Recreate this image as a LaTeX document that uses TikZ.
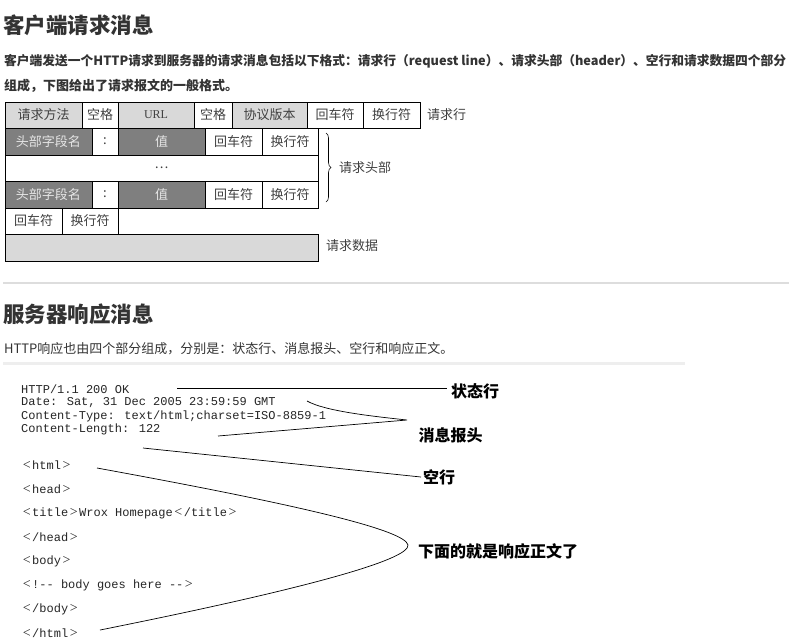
\documentclass[tikz,border=0pt]{standalone}
\usepackage{fontspec}
\usepackage{graphicx}
\usetikzlibrary{decorations.pathreplacing}
\newfontfamily\cjk{Noto Sans CJK SC}
\newfontfamily\mono{Liberation Mono}
\newfontfamily\serifL{Liberation Serif}
\newcommand{\ltb}{\makebox[11pt]{\serifL\fontsize{14}{14}\selectfont<}}
\newcommand{\gtb}{\makebox[11pt]{\serifL\fontsize{14}{14}\selectfont>}}
\definecolor{lightg}{HTML}{D9D9D9}
\definecolor{darkg}{HTML}{7F7F7F}
\definecolor{txt}{HTML}{333333}
\definecolor{celltxt}{HTML}{404040}
\definecolor{rulec}{HTML}{DDDDDD}
\definecolor{barc}{HTML}{EEEEEE}
\tikzset{
  cell/.style={draw=black, line width=0.8pt, inner sep=0pt, outer sep=0pt, anchor=north west,
    font=\cjk\fontsize{13}{13}\selectfont, text=celltxt, fill=white},
  lightcell/.style={cell, fill=lightg},
  darkcell/.style={cell, fill=darkg, text=white!90!black},
  side/.style={anchor=west, inner sep=0pt, font=\cjk\fontsize{13}{13}\selectfont, text=celltxt},
  heading/.style={anchor=west, inner sep=0pt, font=\cjk\bfseries\fontsize{21.5}{22}\selectfont, text=txt},
  para/.style={anchor=west, inner sep=0pt, font=\cjk\bfseries\fontsize{13}{13}\selectfont, text=txt},
  parar/.style={anchor=west, inner sep=0pt, font=\cjk\fontsize{13}{13}\selectfont, text=txt},
  code/.style={anchor=west, inner sep=0pt, font=\mono\fontsize{12}{12}\selectfont, text=black!85},
  callout/.style={inner sep=0pt, font=\cjk\bfseries\fontsize{16}{16}\selectfont, text=black},
  conn/.style={draw=black, line width=0.7pt}
}
\begin{document}
\begin{tikzpicture}[x=1pt,y=-1pt]
\useasboundingbox (0,0) rectangle (789,641);
\fill[white] (0,0) rectangle (789,641);

% ---------- request section ----------
\node[heading] (h1) at (3,25) {客户端请求消息};
\node[para] (p1) at (4,61) {\resizebox{782pt}{!}{客户端发送一个HTTP请求到服务器的请求消息包括以下格式：请求行（request line）、请求头部（header）、空行和请求数据四个部分}};
\node[para] (p2) at (4,86) {组成，下图给出了请求报文的一般格式。};

% row 1
\node[lightcell, minimum width=77pt, minimum height=26pt] (m1) at (5,102) {请求方法};
\node[cell, minimum width=36pt, minimum height=26pt] (sp1) at (82,102) {空格};
\node[lightcell, minimum width=76pt, minimum height=26pt, font=\serifL\fontsize{12}{12}\selectfont] (url) at (118,102) {URL};
\node[cell, minimum width=38pt, minimum height=26pt] (sp2) at (194,102) {空格};
\node[lightcell, minimum width=75pt, minimum height=26pt] (ver) at (232,102) {协议版本};
\node[cell, minimum width=56pt, minimum height=26pt] (cr1) at (307,102) {回车符};
\node[cell, minimum width=57pt, minimum height=26pt] (lf1) at (363,102) {换行符};
\node[side] (lblrl) at (427,115) {请求行};

% row 2
\node[darkcell, minimum width=87pt, minimum height=27pt] (hn1) at (5,128) {头部字段名};
\node[cell, minimum width=26pt, minimum height=27pt] (co1) at (92,128) {:};
\node[darkcell, minimum width=87pt, minimum height=27pt] (v1) at (118,128) {值};
\node[cell, minimum width=57pt, minimum height=27pt] (cr2) at (205,128) {回车符};
\node[cell, minimum width=56pt, minimum height=27pt] (lf2) at (262,128) {换行符};

% row 3
\node[cell, minimum width=313pt, minimum height=26pt] (dots) at (5,155) {…};

% row 4
\node[darkcell, minimum width=87pt, minimum height=27pt] (hn2) at (5,181) {头部字段名};
\node[cell, minimum width=26pt, minimum height=27pt] (co2) at (92,181) {:};
\node[darkcell, minimum width=87pt, minimum height=27pt] (v2) at (118,181) {值};
\node[cell, minimum width=57pt, minimum height=27pt] (cr3) at (205,181) {回车符};
\node[cell, minimum width=56pt, minimum height=27pt] (lf3) at (262,181) {换行符};

% row 5
\node[cell, minimum width=57pt, minimum height=26pt] (cr4) at (5,208) {回车符};
\node[cell, minimum width=56pt, minimum height=26pt] (lf4) at (62,208) {换行符};

% row 6
\node[lightcell, minimum width=313pt, minimum height=27pt] (data) at (5,234) {};
\node[side] (lbldata) at (326,246) {请求数据};

% brace
\coordinate (bt) at (326,133);
\coordinate (bb) at (326,202);
\draw[black, line width=0.6pt, decorate, decoration={brace, amplitude=5pt}] (bt) -- (bb);
\node[side] (lblhd) at (339,168) {请求头部};

% separator
\draw[rulec, line width=1.2pt] (3,283) -- (789,283);

% ---------- response section ----------
\node[heading] (h2) at (3,314) {服务器响应消息};
\node[parar] (p3) at (4,349) {HTTP响应也由四个部分组成，分别是：状态行、消息报头、空行和响应正文。};
\fill[barc] (3,362) rectangle (685,365);

\node[code] (c1) at (21,389) {HTTP/1.1 200 OK};
\node[code] (c2) at (21,402.5) {Date: Sat, 31 Dec 2005 23:59:59 GMT};
\node[code] (c3) at (21,416) {Content-Type: text/html;charset=ISO-8859-1};
\node[code] (c4) at (21,429.5) {Content-Length: 122};

\node[code] (t1) at (21,465) {\ltb html\gtb};
\node[code] (t2) at (21,489) {\ltb head\gtb};
\node[code] (t3) at (21,513) {\ltb title\gtb Wrox Homepage\ltb/title\gtb};
\node[code] (t4) at (21,537) {\ltb/head\gtb};
\node[code] (t5) at (21,561) {\ltb body\gtb};
\node[code] (t6) at (21,585) {\ltb!-- body goes here --\gtb};
\node[code] (t7) at (21,609) {\ltb/body\gtb};
\node[code] (t8) at (21,633) {\ltb/html\gtb};

\node[callout] (lst) at (475,391) {状态行};
\node[callout] (lhd) at (450.5,435) {消息报头};
\node[callout] (lkh) at (439,477) {空行};
\node[callout] (lbody) at (498,551) {下面的就是响应正文了};

% connectors
\coordinate (s0) at (177,388);
\coordinate (s1) at (447,388);
\draw[conn] (s0) -- (s1);

\coordinate (hb0) at (307,401);
\coordinate (hbt) at (407,420);
\coordinate (hb1) at (218,436);
\draw[conn] (hb0) .. controls (325,411) and (370,416) .. (hbt) -- (hb1);

\coordinate (k0) at (143,448);
\coordinate (k1) at (421,477);
\draw[conn] (k0) -- (k1);

\coordinate (b0) at (97,468);
\coordinate (bt2) at (408,545);
\coordinate (b1) at (100,630);
\draw[conn] (b0) .. controls (300,505) and (405,530) .. (bt2) .. controls (410,560) and (300,590) .. (b1);
\end{tikzpicture}
\end{document}
